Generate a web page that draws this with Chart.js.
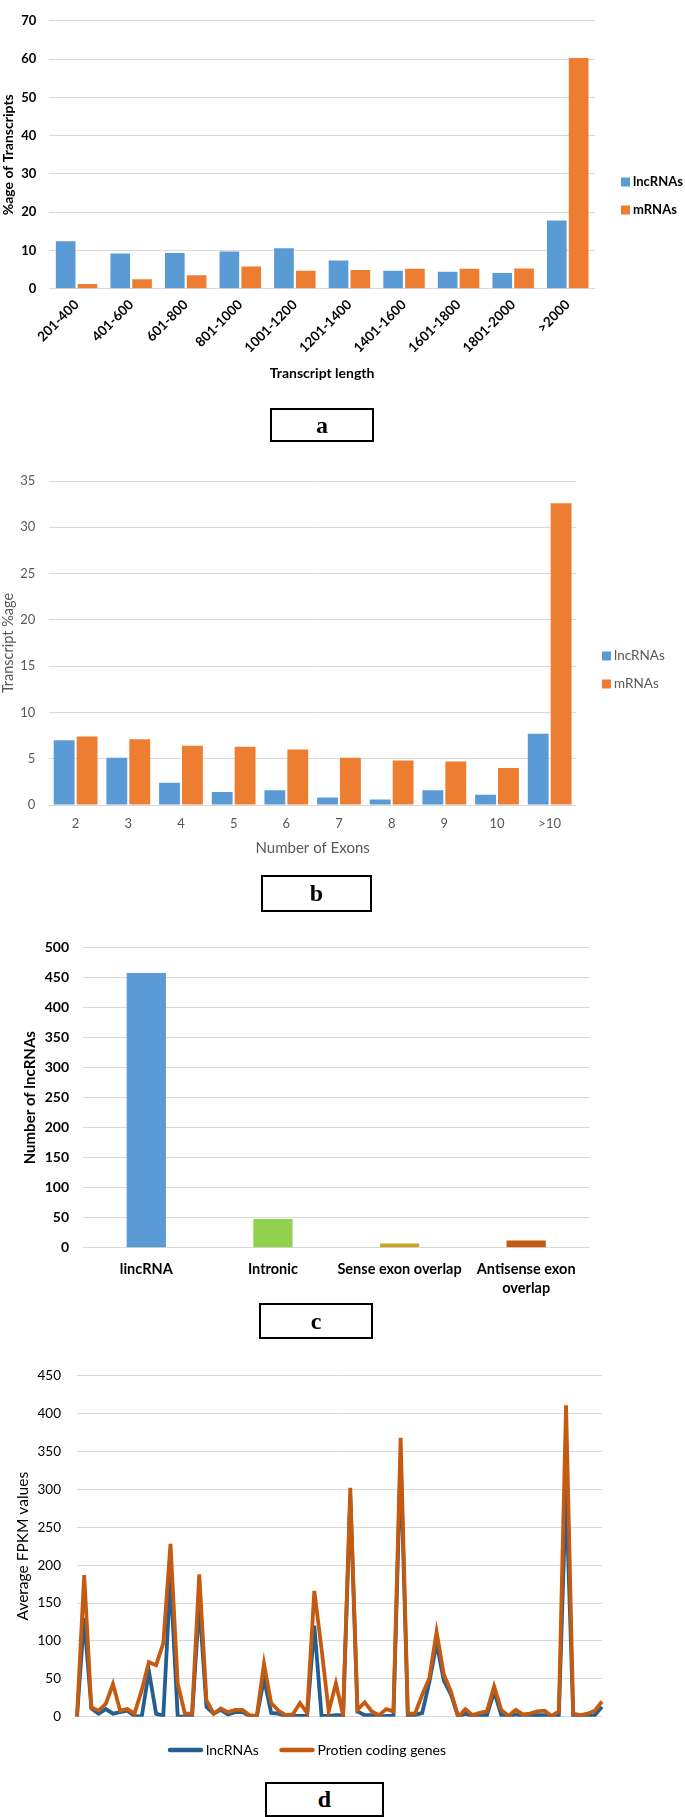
<!DOCTYPE html>
<html>
<head>
<meta charset="utf-8">
<script src="https://cdn.jsdelivr.net/npm/chart.js@4.4.0/dist/chart.umd.min.js"></script>
<style>
  body { margin: 0; background: #fff; }
  #page { position: relative; width: 685px; height: 1817px; overflow: hidden; background: #fff; }
  canvas { position: absolute; left: 0; }
  .tag {
    position: absolute; box-sizing: border-box; border: 2px solid #000;
    font-family: "Liberation Serif", serif; font-weight: bold; font-size: 24px;
    display: flex; align-items: center; justify-content: center;
  }
</style>
</head>
<body>
<div id="page">
  <canvas id="lengthChart" width="685" height="390" style="top:0px"></canvas>
  <canvas id="exonChart" width="685" height="420" style="top:440px"></canvas>
  <canvas id="classChart" width="685" height="410" style="top:900px"></canvas>
  <canvas id="fpkmChart" width="685" height="430" style="top:1340px"></canvas>
  <div class="tag" style="left:270px;top:408px;width:104px;height:34px">a</div>
  <div class="tag" style="left:261px;top:875px;width:111px;height:37px">b</div>
  <div class="tag" style="left:259px;top:1303px;width:114px;height:36px">c</div>
  <div class="tag" style="left:265px;top:1782px;width:119px;height:35px">d</div>
</div>
<script>
// (a) transcript length
var lengthLabels = ['201-400','401-600','601-800','801-1000','1001-1200','1201-1400','1401-1600','1601-1800','1801-2000','>2000'];
var lengthLnc  = [12.4, 9.2, 9.3, 9.7, 10.6, 7.4, 4.7, 4.4, 4.1, 17.8];
var lengthMrna = [1.2, 2.5, 3.5, 5.8, 4.7, 4.9, 5.2, 5.2, 5.3, 60.3];

// (b) number of exons
var exonLabels = ['2','3','4','5','6','7','8','9','10','>10'];
var exonLnc  = [7.0, 5.1, 2.4, 1.4, 1.6, 0.8, 0.6, 1.6, 1.1, 7.7];
var exonMrna = [7.4, 7.1, 6.4, 6.3, 6.0, 5.1, 4.8, 4.7, 4.0, 32.6];

// (c) lncRNA classes
var classLabels = ['lincRNA', 'Intronic', 'Sense exon overlap', ['Antisense exon', 'overlap']];
var classCounts = [458, 48, 7, 12];
var classColors = ['#5B9BD5', '#92D050', '#C9A227', '#C55A11'];

// (d) average FPKM values
var fpkmLnc = [0,130,11,4,10,4,6,8,1,0,60,4,1,185,0,0,0,150,13,4,9,3,6,6,1,0,
  50,5,4,1,1,1,1,120,1,1,2,2,290,7,2,2,0,1,1,340,1,2,5,46,97,48,29,0,4,1,2,2,
  33,2,0,3,1,2,2,2,0,2,300,1,0,1,2,13];
var fpkmCoding = [0,187,12,8,17,43,8,10,4,35,72,68,97,228,44,4,4,188,22,4,11,6,9,9,2,1,
  70,18,8,2,3,18,5,166,90,7,44,2,302,9,19,7,2,10,7,368,4,4,29,51,112,56,33,0,10,2,5,7,
  40,9,1,9,3,4,7,8,1,7,411,4,2,4,8,20];
var fpkmLabels = fpkmLnc.map(function(v, i){ return i + 1; });

var BLUE = '#5B9BD5', ORANGE = '#ED7D31';
var FONT = 'Lato, "Liberation Sans", sans-serif';
var GRID = '#D9D9D9';

// legend drawn at a fixed place, from the datasets
var boxLegend = {
  id: 'boxLegend',
  afterDraw: function(chart, args, o) {
    var ctx = chart.ctx;
    ctx.save();
    ctx.font = o.font;
    ctx.textBaseline = 'middle';
    chart.data.datasets.forEach(function(ds, i) {
      var y = o.y + i * o.dy;
      ctx.fillStyle = ds.backgroundColor;
      ctx.fillRect(o.x, y - o.size / 2, o.size, o.size);
      ctx.fillStyle = o.color;
      ctx.fillText(ds.label, o.x + o.size + o.gap, y);
    });
    ctx.restore();
  }
};

var lineLegend = {
  id: 'lineLegend',
  afterDraw: function(chart, args, o) {
    var ctx = chart.ctx;
    ctx.save();
    ctx.font = o.font;
    ctx.textBaseline = 'middle';
    chart.data.datasets.forEach(function(ds, i) {
      var x = o.xs[i];
      ctx.strokeStyle = ds.borderColor;
      ctx.lineWidth = 4.5;
      ctx.lineCap = 'round';
      ctx.beginPath();
      ctx.moveTo(x + 2, o.y);
      ctx.lineTo(x + o.len - 2, o.y);
      ctx.stroke();
      ctx.fillStyle = o.color;
      ctx.fillText(ds.label, x + o.len + o.gap, o.y);
    });
    ctx.restore();
  }
};

function yScale(max, step, font, titleFont, color, width, pad, title, titlePad) {
  return {
    min: 0, max: max,
    afterFit: function(axis){ axis.width = width; },
    border: { display: false },
    grid: { color: GRID, lineWidth: 1, drawTicks: false },
    ticks: { stepSize: step, padding: pad, color: color, font: font },
    title: { display: true, text: title, color: color, font: titleFont, padding: { top: titlePad, bottom: 0 } }
  };
}

Chart.defaults.font.family = FONT;
Chart.defaults.animation = false;

new Chart(document.getElementById('lengthChart'), {
  type: 'bar',
  data: {
    labels: lengthLabels,
    datasets: [
      { label: 'lncRNAs', data: lengthLnc, backgroundColor: BLUE },
      { label: 'mRNAs', data: lengthMrna, backgroundColor: ORANGE }
    ]
  },
  options: {
    responsive: false, devicePixelRatio: 1,
    layout: { padding: { top: 8, right: 90, left: 0, bottom: 0 } },
    categoryPercentage: 0.8, barPercentage: 0.9,
    plugins: {
      legend: { display: false }, tooltip: { enabled: false },
      boxLegend: { x: 621, y: 182, dy: 28, size: 9, gap: 3, font: 'bold 13px ' + FONT, color: '#000' }
    },
    scales: {
      x: {
        afterFit: function(axis){ axis.height = 101.3; },
        border: { display: false },
        grid: { display: false, drawTicks: false },
        ticks: { autoSkip: false, minRotation: 45, maxRotation: 45, padding: 8, color: '#000', font: { size: 13.5, weight: 'bold' } },
        title: { display: true, text: 'Transcript length', color: '#000', font: { size: 14, weight: 'bold' }, padding: { top: 0, bottom: 8 } }
      },
      y: yScale(70, 10, { size: 13, weight: 'bold' }, { size: 14, weight: 'bold' }, '#000', 49.3, 13, '%age of Transcripts', 0)
    }
  },
  plugins: [boxLegend]
});

new Chart(document.getElementById('exonChart'), {
  type: 'bar',
  data: {
    labels: exonLabels,
    datasets: [
      { label: 'lncRNAs', data: exonLnc, backgroundColor: BLUE },
      { label: 'mRNAs', data: exonMrna, backgroundColor: ORANGE }
    ]
  },
  options: {
    responsive: false, devicePixelRatio: 1,
    layout: { padding: { top: 41, right: 109, left: 0, bottom: 0 } },
    categoryPercentage: 0.87, barPercentage: 0.91,
    plugins: {
      legend: { display: false }, tooltip: { enabled: false },
      boxLegend: { x: 602, y: 216, dy: 28, size: 9, gap: 3, font: '13.5px ' + FONT, color: '#595959' }
    },
    scales: {
      x: {
        afterFit: function(axis){ axis.height = 55; },
        border: { display: false },
        grid: { display: false, drawTicks: false },
        ticks: { autoSkip: false, maxRotation: 0, padding: 11, color: '#595959', font: { size: 13 } },
        title: { display: true, text: 'Number of Exons', color: '#595959', font: { size: 15 }, padding: { top: 0, bottom: 3 } }
      },
      y: yScale(35, 5, { size: 13 }, { size: 14.5 }, '#595959', 49.3, 14, 'Transcript %age', 0)
    }
  },
  plugins: [boxLegend]
});

new Chart(document.getElementById('classChart'), {
  type: 'bar',
  data: {
    labels: classLabels,
    datasets: [{ label: 'Number of lncRNAs', data: classCounts, backgroundColor: classColors }]
  },
  options: {
    responsive: false, devicePixelRatio: 1,
    layout: { padding: { top: 47.7, right: 95.5, left: 0, bottom: 0 } },
    categoryPercentage: 1, barPercentage: 0.31,
    plugins: { legend: { display: false }, tooltip: { enabled: false } },
    scales: {
      x: {
        afterFit: function(axis){ axis.height = 62.3; },
        border: { display: false },
        grid: { display: false, drawTicks: false },
        ticks: { autoSkip: false, maxRotation: 0, padding: 11.5, color: '#000', font: { size: 14.5, weight: 'bold', lineHeight: 1.35 } }
      },
      y: yScale(500, 50, { size: 14, weight: 'bold' }, { size: 15, weight: 'bold' }, '#000', 83, 14, 'Number of lncRNAs', 21)
    }
  }
});

new Chart(document.getElementById('fpkmChart'), {
  type: 'line',
  data: {
    labels: fpkmLabels,
    datasets: [
      { label: 'lncRNAs', data: fpkmLnc, borderColor: '#255E91', backgroundColor: '#255E91', order: 1 },
      { label: 'Protien coding genes', data: fpkmCoding, borderColor: '#C55A11', backgroundColor: '#C55A11', order: 0 }
    ]
  },
  options: {
    responsive: false, devicePixelRatio: 1,
    layout: { padding: { top: 35.7, right: 83, left: 0, bottom: 53.3 } },
    elements: { line: { borderWidth: 3.8, tension: 0 }, point: { radius: 0 } },
    plugins: {
      legend: { display: false }, tooltip: { enabled: false },
      lineLegend: { xs: [168, 279.5], y: 410, len: 35, gap: 3, font: '14px ' + FONT, color: '#000' }
    },
    scales: {
      x: {
        offset: false,
        border: { display: false },
        grid: { display: false, drawTicks: false },
        ticks: { display: false }
      },
      y: yScale(450, 50, { size: 13.5 }, { size: 15.5 }, '#000', 77, 16, 'Average FPKM values', 13.5)
    }
  },
  plugins: [lineLegend]
});
</script>
</body>
</html>
